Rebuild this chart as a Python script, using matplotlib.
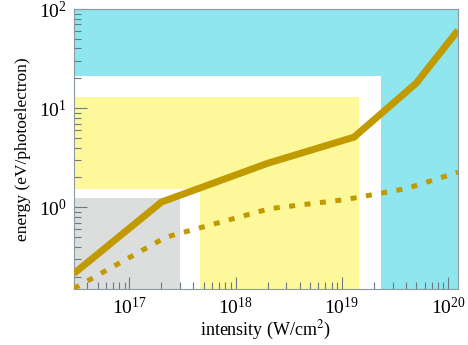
import matplotlib
matplotlib.use("Agg")
import matplotlib.pyplot as plt
from matplotlib.patches import Rectangle

plt.rcParams['font.family'] = 'Liberation Serif'
plt.rcParams['mathtext.fontset'] = 'stix'

# datos
x_lim = [3e16, 1.24e20]
y_lim = [0.15, 100]

# curva continua
solid_x = [3e16, 2e17, 2e18, 1.3e19, 5e19, 1.24e20]
solid_y = [0.215, 1.13, 2.78, 5.1, 17.8, 61]

# curva punteada
dot_x = [3e16, 2.2e17, 2.1e18, 1.1e19, 4.1e19, 1.24e20]
dot_y = [0.152, 0.5, 0.97, 1.2, 1.55, 2.26]

# regiones: (x0, x1, y0, y1, color)
regiones = [
    (3e16, 1.24e20, 0.15, 100, '#8fe6ef'),
    (3e16, 2.33e19, 0.15, 21, 'white'),
    (3e16, 1.45e19, 1.52, 12.9, '#fdf89a'),
    (4.57e17, 1.45e19, 0.15, 1.52, '#fdf89a'),
    (3e16, 2.96e17, 0.15, 1.23, '#dcdddd'),
]

fig = plt.figure(figsize=(4.68, 3.45), dpi=100)
ax = fig.add_axes([0.158, 0.1623, 0.8206, 0.8116])
ax.set_xscale('log')
ax.set_yscale('log')

for x0, x1, y0, y1, c in regiones:
    ax.add_patch(Rectangle((x0, y0), x1 - x0, y1 - y0, color=c, lw=0, zorder=0))

oro = '#c19a00'
ax.plot(solid_x, solid_y, color=oro, lw=5, solid_capstyle='butt', zorder=3)
ax.plot(dot_x, dot_y, color=oro, lw=3.6, linestyle=(0, (1.2, 1.9)), dash_capstyle='butt', zorder=3)

ax.set_xlim(x_lim)
ax.set_ylim(y_lim)

for s in ax.spines.values():
    s.set_color('#8a9aa0')
    s.set_linewidth(0.8)

ax.tick_params(which='both', direction='in', top=False, right=False, colors='#6a7a80',
               labelcolor='black', labelsize=14)
ax.tick_params(which='major', length=9, width=0.8)
ax.tick_params(which='minor', length=5, width=0.8)
ax.tick_params(axis='x', which='major', pad=6)
ax.tick_params(axis='y', which='major', pad=5)

ax.set_xlabel('intensity (W/cm$^2$)', fontsize=13, labelpad=0)
ax.set_ylabel('energy (eV/photoelectron)', fontsize=12.5, labelpad=6)

fig.savefig('out.png', dpi=100)
